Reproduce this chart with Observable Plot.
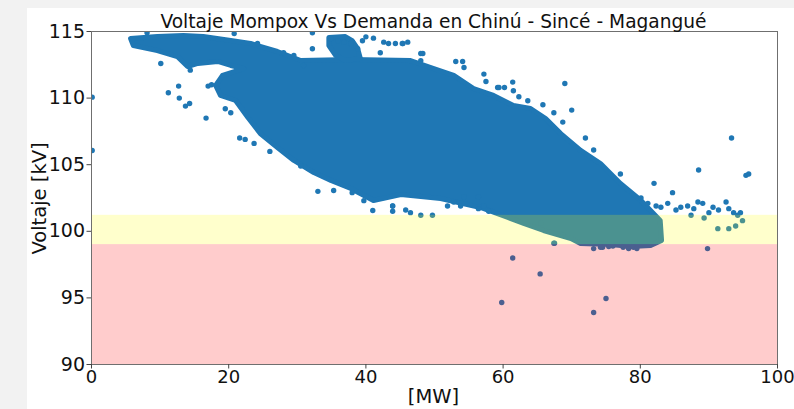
<!DOCTYPE html>
<html>
<head>
<meta charset="utf-8">
<script src="https://cdn.jsdelivr.net/npm/d3@7"></script>
<script src="https://cdn.jsdelivr.net/npm/@observablehq/plot@0.6"></script>
<style>
  html, body { margin: 0; padding: 0; background: #f2f2f2; }
  #wrap { position: relative; width: 794px; height: 409px; overflow: hidden; }
  #paper { position: absolute; left: 27px; top: 8px; right: 0; bottom: 0; background: #ffffff; }
  #chart { position: absolute; left: 0; top: 0; }
</style>
</head>
<body>
<div id="wrap"><div id="paper"></div><div id="chart"></div></div>
<script>
// Dense core of the cloud (outline, clockwise), MW and kV
const coreMW = [5.7, 9.6, 13.4, 16.3, 20.3, 23.2, 27.1, 30.5, 37.8, 46.5, 49.9, 52.8, 55.7, 58.6, 61.5, 64.0, 66.2, 68.4, 71.3, 74.2, 77.1, 80.1, 81.5, 82.9, 83.1, 81.5, 78.6, 75.7, 71.3, 69.9, 65.9, 63.0, 60.7, 56.7, 50.9, 45.1, 41.1, 37.8, 34.9, 32.4, 29.5, 27.1, 24.6, 22.8, 21.0, 18.8, 18.1, 19.1, 22.2, 20.3, 18.4, 15.5, 14.0, 12.5, 9.6, 6.1];
const coreKV = [114.47, 114.62, 114.70, 114.62, 114.32, 114.10, 113.50, 112.82, 112.90, 112.82, 112.22, 111.70, 110.72, 110.20, 109.44, 109.22, 108.47, 107.34, 106.07, 105.09, 103.59, 102.31, 101.56, 100.81, 99.31, 98.93, 98.86, 99.01, 99.08, 99.46, 100.06, 100.59, 101.04, 101.79, 102.46, 102.76, 102.31, 103.21, 103.81, 104.41, 105.32, 106.29, 107.34, 108.54, 109.82, 110.20, 110.95, 111.70, 112.22, 112.45, 112.75, 112.60, 112.37, 113.12, 113.57, 113.95];
// Small dense cluster near the top (about 35-39 MW)
const topMW = [34.6, 37.0, 38.0, 38.8, 39.2, 37.0, 35.6, 34.6];
const topKV = [114.55, 114.62, 114.32, 113.72, 112.97, 112.82, 113.2, 113.95];

// Isolated points
const ptMW = [0.1, 0.1, 10.1, 11.2, 12.7, 12.8, 13.7, 14.3, 16.7, 21.6, 22.4, 23.7, 8.1, 14.4, 20.8, 32.2, 24.2, 28.0, 29.5, 30.9,
  46.1, 45.4, 48.3, 53.1, 54.1, 54.3, 57.2, 57.5, 61.4, 59.2, 60.2, 69.0, 65.8, 67.4, 68.7, 70.0, 72.0, 73.2, 77.1, 82.0, 84.7, 88.5, 93.3, 95.4, 95.8,
  84.0, 85.2, 85.9, 86.9, 87.8, 88.4, 89.1, 89.3, 90.0, 90.6, 91.4, 92.5, 92.9, 93.6, 94.2, 94.6, 94.9, 91.3, 92.9, 93.9, 87.4, 83.0, 82.3, 81.1, 80.1, 89.8,
  61.4, 65.4, 59.8, 75.0, 73.2, 67.5, 73.2, 77.5, 78.3, 79.0, 79.5, 76.0, 74.5, 74.2, 75.4,
  35.3, 39.7, 41.0, 43.9, 43.9, 45.8, 46.5, 48.0, 49.7, 51.9, 52.8, 53.8, 54.3, 56.4, 57.2, 57.9, 56.4, 43.9,
  34.9, 35.9, 36.8, 37.8, 38.8, 40.0, 39.5, 41.1, 42.6, 43.3, 44.3, 45.3, 42.1, 48.0, 48.0, 32.2, 59.4, 61.5, 62.3, 63.6,
  65.5, 68.4, 67.4, 68.7, 17.0, 17.5, 19.5, 20.3, 33.0, 38.0, 30.5, 26.0];
const ptKV = [110.07, 106.07, 112.6, 110.4, 110.9, 110.0, 109.4, 109.6, 108.5, 107.0, 106.9, 106.6, 114.9, 112.1, 114.85, 114.9, 114.1, 113.4, 113.2, 112.45,
  114.2, 114.1, 113.35, 112.75, 112.75, 112.3, 111.8, 111.25, 111.2, 110.8, 110.8, 111.1, 109.5, 108.9, 108.2, 109.1, 107.0, 106.1, 104.3, 103.6, 102.9, 104.6, 107.0, 104.2, 104.3,
  102.1, 101.6, 101.8, 101.9, 101.7, 102.2, 102.1, 101.0, 101.4, 101.8, 101.6, 102.2, 101.7, 101.4, 101.2, 101.4, 100.8, 100.2, 100.2, 100.4, 101.2, 101.8, 101.9, 102.1, 102.5, 98.7,
  98.0, 96.8, 94.65, 94.95, 93.9, 99.1, 98.7, 98.8, 98.7, 98.8, 98.7, 98.9, 98.8, 98.8, 98.85,
  103.06, 102.3, 101.56, 101.9, 101.5, 101.6, 101.4, 101.2, 101.2, 101.9, 102.2, 101.9, 102.6, 101.7, 101.9, 101.5, 102.6, 101.9,
  114.47, 114.3, 114.2, 114.1, 113.7, 114.6, 114.3, 114.5, 114.2, 114.1, 114.1, 114.1, 113.4, 113.35, 112.8, 113.7, 110.8, 110.55, 110.1, 109.8,
  100.6, 99.8, 99.1, 99.7, 110.9, 111.0, 109.2, 108.9, 103.0, 102.9, 104.9, 106.0];

// Limit bands (kV)
const warnBand = [99, 101.2];
const alarmBand = [90, 99];
const xTicks = [0, 20, 40, 60, 80, 100];
const yTicks = [90, 95, 100, 105, 110, 115];

const shapes = [
  ...coreMW.map((x, i) => ({g: "core", x, y: coreKV[i]})),
  ...topMW.map((x, i) => ({g: "top", x, y: topKV[i]}))
];
const pts = ptMW.map((x, i) => ({x, y: ptKV[i]}));
const blue = "#1f77b4";

const plot = Plot.plot({
  width: 794,
  height: 409,
  marginLeft: 91,
  marginRight: 17,
  marginTop: 31,
  marginBottom: 45,
  style: {background: "transparent", fontFamily: "'DejaVu Sans', sans-serif", fontSize: "19px", color: "#111"},
  x: {domain: [0, 100]},
  y: {domain: [90, 115]},
  marks: [
    Plot.line(shapes, {x: "x", y: "y", z: "g", curve: "linear-closed", fill: blue, stroke: blue, strokeWidth: 5, strokeLinejoin: "round", clip: true}),
    Plot.dot(pts, {x: "x", y: "y", r: 2.7, fill: blue, stroke: "none", clip: true}),
    Plot.rect([warnBand], {x1: 0, x2: 100, y1: d => d[0], y2: d => d[1], fill: "yellow", fillOpacity: 0.2}),
    Plot.rect([alarmBand], {x1: 0, x2: 100, y1: d => d[0], y2: d => d[1], fill: "red", fillOpacity: 0.2}),
    Plot.frame({stroke: "#6f6f6f", strokeWidth: 1}),
    Plot.axisX({ticks: xTicks, tickSize: 4.5, tickPadding: 1, label: null, stroke: "#444", fontSize: "18px"}),
    Plot.axisY({ticks: yTicks, tickSize: 4.5, tickPadding: 2, label: null, stroke: "#444", fontSize: "19px"})
  ]
});

document.getElementById("chart").appendChild(plot);
const svg = d3.select(plot);
svg.append("text").attr("x", 433.5).attr("y", 27.5).attr("text-anchor", "middle")
  .attr("font-size", "18.6px").attr("fill", "#111")
  .text("Voltaje Mompox Vs Demanda en Chinú - Sincé - Magangué");
svg.append("text").attr("transform", "translate(45.5,198.5) rotate(-90)").attr("text-anchor", "middle")
  .attr("font-size", "19.5px").attr("fill", "#111").text("Voltaje [kV]");
svg.append("text").attr("x", 433.5).attr("y", 403).attr("text-anchor", "middle")
  .attr("font-size", "19.5px").attr("fill", "#111").text("[MW]");
</script>
</body>
</html>
